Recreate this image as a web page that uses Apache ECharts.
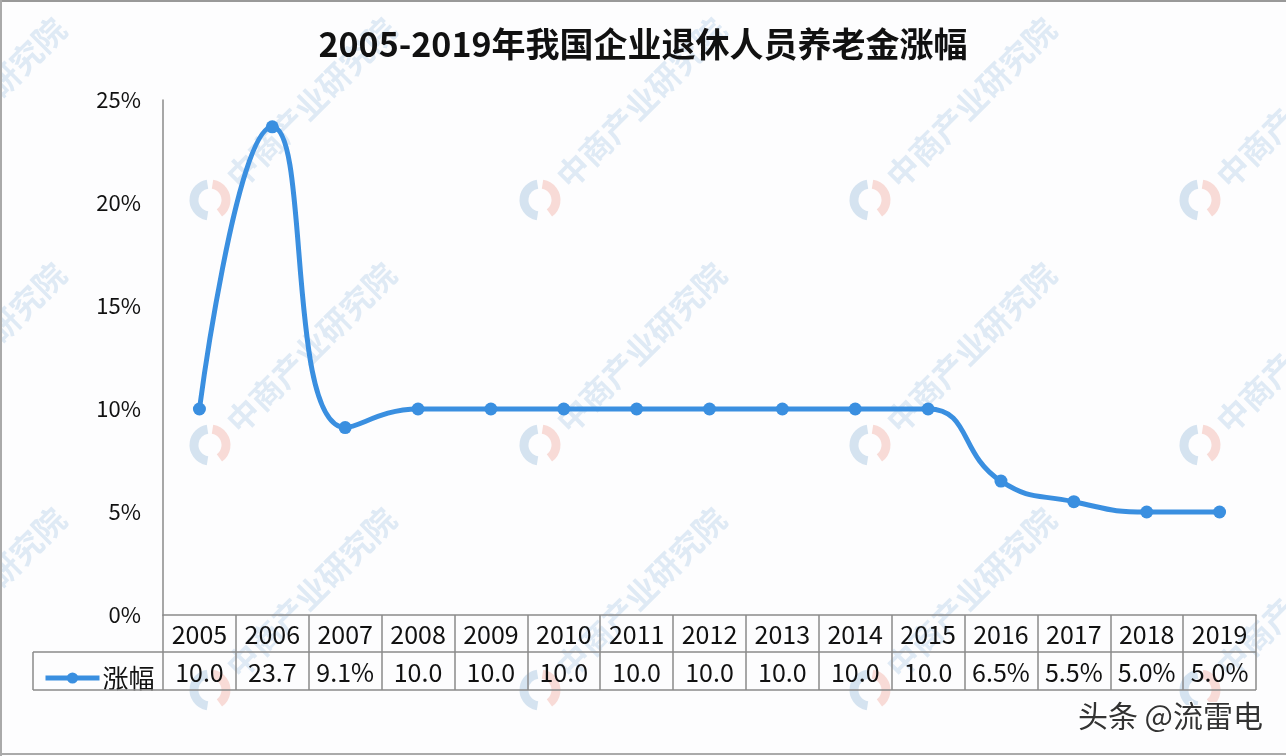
<!DOCTYPE html>
<html>
<head>
<meta charset="utf-8">
<script src="https://cdn.jsdelivr.net/npm/echarts@6/dist/echarts.min.js"></script>
<style>
  html, body { margin: 0; padding: 0; background: #fdfdfe; }
  #chart { width: 1286px; height: 756px; }
</style>
</head>
<body>
<div id="chart"></div>
<script>
const years = ['2005', '2006', '2007', '2008', '2009', '2010', '2011', '2012', '2013', '2014', '2015', '2016', '2017', '2018', '2019'];
const growth = [10.0, 23.7, 9.1, 10.0, 10.0, 10.0, 10.0, 10.0, 10.0, 10.0, 10.0, 6.5, 5.5, 5.0, 5.0];
// table row text as shown (Excel clipped the wider cells)
const tableLabels = ['10.0', '23.7', '9.1%', '10.0', '10.0', '10.0', '10.0', '10.0', '10.0', '10.0', '10.0', '6.5%', '5.5%', '5.0%', '5.0%'];
const yTicks = [0, 5, 10, 15, 20, 25];

const FONT = '"Noto Sans CJK SC", "Noto Sans", sans-serif';
const BLUE = '#3a8fe0';
const LINE = '#8a8a8a';

const gridLeft = 163, gridRight = 30, gridTop = 100, gridBottom = 141;
const axisY = 756 - gridBottom;        // 615
const row1 = axisY + 37, row2 = axisY + 75;

// faint watermark tiles
const marks = [];
[-120, 210, 540, 870, 1200].forEach(x => {
    [200, 445, 690].forEach(y => {
        marks.push({
            type: 'arc', silent: true, z: 0,
            shape: { cx: x, cy: y, r: 16, startAngle: Math.PI * 0.55, endAngle: Math.PI * 1.45 },
            style: { stroke: 'rgba(110,160,205,0.28)', lineWidth: 9, fill: null }
        });
        marks.push({
            type: 'arc', silent: true, z: 0,
            shape: { cx: x, cy: y, r: 16, startAngle: Math.PI * 1.55, endAngle: Math.PI * 2.3 },
            style: { stroke: 'rgba(235,120,100,0.25)', lineWidth: 9, fill: null }
        });
        marks.push({
            type: 'text', silent: true, z: 0,
            x: x + 22, y: y - 18, rotation: Math.PI / 4,
            style: {
                text: '中商产业研究院', fontSize: 32, fontFamily: FONT, fontWeight: 'bold',
                fill: 'rgba(120,170,215,0.22)', textVerticalAlign: 'middle'
            }
        });
    });
});

const chart = echarts.init(document.getElementById('chart'));
chart.setOption({
    backgroundColor: '#fdfdfe',
    animation: false,
    title: {
        text: '2005-2019年我国企业退休人员养老金涨幅',
        left: 'center',
        top: 22,
        textStyle: { fontFamily: FONT, fontSize: 34, fontWeight: 'bold', color: '#111' }
    },
    legend: {
        left: 38,
        top: row1 + 8,
        itemWidth: 54,
        itemHeight: 14,
        itemGap: 4,
        lineStyle: { width: 5 },
        textStyle: { fontFamily: FONT, fontSize: 26, color: '#111', padding: [0, 0, 0, -2] },
        data: ['涨幅']
    },
    grid: { left: gridLeft, right: gridRight, top: gridTop, bottom: gridBottom },
    xAxis: [{
        type: 'category',
        data: years,
        boundaryGap: true,
        axisLine: { lineStyle: { color: LINE, width: 1.5 } },
        axisTick: { show: true, length: 75, interval: 0, lineStyle: { color: LINE, width: 1.5 } },
        axisLabel: { interval: 0, margin: 7, fontFamily: FONT, fontSize: 25, color: '#111' },
        splitLine: { show: false }
    }, {
        type: 'category',
        data: tableLabels,
        position: 'bottom',
        offset: 38,
        boundaryGap: true,
        axisLine: { show: false },
        axisTick: { show: false },
        axisLabel: { interval: 0, hideOverlap: false, margin: 7, fontFamily: FONT, fontSize: 25, color: '#111' }
    }],
    yAxis: {
        type: 'value',
        min: yTicks[0],
        max: yTicks[yTicks.length - 1],
        interval: 5,
        axisLine: { show: true, lineStyle: { color: LINE, width: 1.5 } },
        axisTick: { show: false },
        splitLine: { show: false },
        axisLabel: { margin: 22, formatter: '{value}%', fontFamily: FONT, fontSize: 22, color: '#111' }
    },
    series: [{
        name: '涨幅',
        type: 'line',
        data: growth,
        smooth: 0.5,
        symbol: 'circle',
        symbolSize: 13,
        lineStyle: { color: BLUE, width: 5 },
        itemStyle: { color: BLUE },
        z: 5
    }],
    graphic: marks.concat([
        { type: 'line', silent: true, z: 10, shape: { x1: 33, y1: row1, x2: 1286 - gridRight, y2: row1 }, style: { stroke: LINE, lineWidth: 1.5 } },
        { type: 'line', silent: true, z: 10, shape: { x1: 33, y1: row2, x2: 1286 - gridRight, y2: row2 }, style: { stroke: LINE, lineWidth: 1.5 } },
        { type: 'line', silent: true, z: 10, shape: { x1: 33, y1: row1, x2: 33, y2: row2 }, style: { stroke: LINE, lineWidth: 1.5 } },
        { type: 'line', silent: true, z: 10, shape: { x1: 0, y1: 1, x2: 1286, y2: 1 }, style: { stroke: '#999', lineWidth: 2 } },
        { type: 'line', silent: true, z: 10, shape: { x1: 1, y1: 0, x2: 1, y2: 756 }, style: { stroke: '#aaa', lineWidth: 2 } },
        { type: 'line', silent: true, z: 10, shape: { x1: 0, y1: 754, x2: 1286, y2: 754 }, style: { stroke: '#aaa', lineWidth: 2 } },
        {
            type: 'text', silent: true, z: 10,
            right: 22, top: 700,
            style: {
                text: '头条 @流雷电', fontSize: 30, fontFamily: FONT, fill: '#333',
                stroke: '#fff', lineWidth: 2
            }
        }
    ])
});
</script>
</body>
</html>
